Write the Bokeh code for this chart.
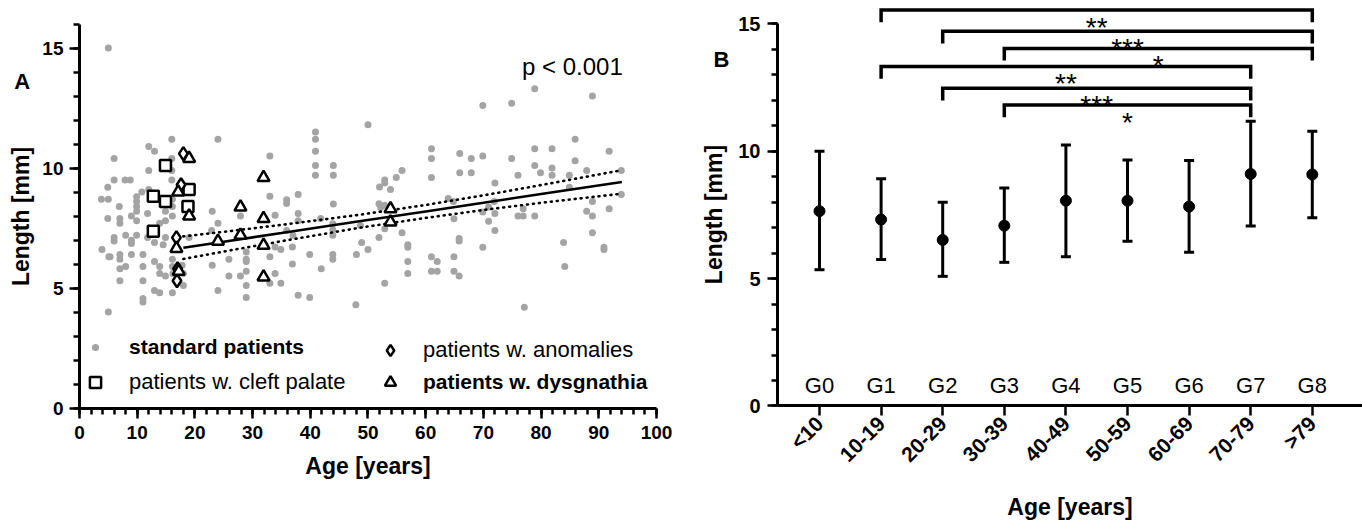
import math
from bokeh.plotting import figure
from bokeh.models import (ColumnDataSource, SingleIntervalTicker, FixedTicker, Whisker,
                          TeeHead, Label, Legend, LegendItem, Range1d)
from bokeh.layouts import row
from bokeh.embed import file_html
from bokeh.resources import INLINE
from bokeh.core.properties import value

FONT = "Liberation Sans"

# ---------------- Panel A data ----------------
std_age = [5.0, 16.0, 24.0, 12.0, 13.0, 6.0, 16.0, 12.0, 16.0, 6.0, 7.9, 8.8, 16.0,
           4.9, 3.8, 5.0, 6.9, 9.9, 9.9, 9.9, 9.9, 10.8, 4.9, 7.0, 7.0, 9.0, 9.9, 11.8,
           13.9, 14.9, 14.9, 16.1, 16.1, 16.1, 6.0, 6.0, 8.0, 9.0, 9.0, 9.9, 11.8, 3.9,
           5.1, 7.0, 7.0, 9.0, 11.0, 13.0, 7.0, 8.0, 11.0, 7.0, 11.0, 13.0, 13.9, 13.9,
           14.9, 16.1, 16.1, 17.8, 18.0, 18.0, 13.0, 13.9, 16.1, 11.0, 11.0, 5.0, 23.0,
           24.0, 23.0, 24.0, 19.0, 12.0, 14.9, 14.5, 22.9, 16.2, 5.3,
           33.0, 40.9, 40.9, 40.9, 40.9, 40.9, 44.0, 44.0,
           33.0, 35.9, 35.9, 37.9, 44.0, 27.9, 33.9, 37.9, 37.9, 41.8, 43.9, 43.9, 43.9,
           48.7, 28.9, 28.9, 28.9, 25.9, 33.0, 33.9, 34.9, 36.9, 39.9, 43.9, 43.9, 48.0,
           48.9, 36.9, 41.9, 25.9, 27.9, 28.9, 33.9, 33.0, 34.9, 28.9, 28.9, 37.9, 39.9,
           47.9, 35.9, 37.0,
           50.0, 69.9, 61.0, 61.0, 65.9, 67.9, 69.9, 55.9, 54.9, 52.9, 61.0, 65.9, 67.9,
           52.0, 52.9, 53.9, 51.9, 52.9, 52.2, 52.9, 55.9, 51.9, 50.0, 56.9, 56.9, 56.9,
           56.9, 52.9, 61.0, 62.0, 61.0, 62.0, 63.9, 64.8, 64.9, 65.8, 65.8, 64.9, 64.9,
           65.8, 69.9, 70.9, 70.9, 69.9, 72.0, 72.0, 72.0, 71.9,
           74.9, 74.9, 76.0, 76.0, 76.9, 76.9, 78.9, 78.9, 78.9, 79.9, 78.9, 81.9, 81.9,
           81.9, 83.9, 84.9, 84.9, 85.9, 85.9, 87.9, 87.9, 88.9, 88.9, 88.9, 88.9, 90.9,
           90.9, 91.8, 91.8, 93.9, 93.9, 77.1, 84.1]
std_len = [15.0, 11.2, 11.2, 10.9, 10.7, 10.4, 10.4, 9.9, 9.9, 9.5, 9.5, 9.5, 9.5,
           9.2, 8.7, 8.7, 8.4, 8.8, 8.6, 8.4, 8.2, 9.0, 7.9, 7.9, 7.7, 8.0, 7.8, 8.1,
           7.7, 7.8, 8.2, 8.7, 8.4, 8.0, 7.1, 6.96, 7.2, 6.99, 6.85, 7.2, 7.1, 6.6,
           6.3, 6.4, 6.2, 6.4, 6.4, 6.9, 5.8, 5.9, 5.9, 5.3, 5.3, 6.1, 5.9, 5.6,
           5.5, 6.2, 5.9, 5.95, 5.6, 5.1, 4.9, 4.8, 4.8, 4.56, 4.42, 4.0, 8.2,
           7.7, 5.95, 4.9, 7.1, 9.1, 7.1, 6.8, 7.4, 5.6, 6.3,
           10.5, 11.5, 11.2, 10.7, 10.1, 9.7, 10.1, 9.7,
           8.82, 8.68, 8.52, 8.9, 8.5, 8.0, 8.03, 8.1, 7.8, 7.9, 7.68, 7.43, 7.2,
           7.6, 6.5, 6.2, 6.1, 6.2, 6.3, 6.71, 6.6, 6.71, 6.4, 6.4, 6.2, 6.4,
           6.9, 6.0, 5.8, 5.5, 5.5, 5.7, 5.6, 5.2, 5.2, 5.1, 4.6, 4.7, 4.6,
           4.3, 7.4, 7.2,
           11.8, 12.6, 10.8, 10.4, 10.6, 10.4, 10.5, 9.9, 9.6, 9.5, 9.6, 9.8, 9.8,
           9.21, 9.38, 9.1, 8.51, 8.45, 8.35, 7.47, 7.3, 7.1, 6.6, 6.8, 6.7, 6.1,
           5.6, 5.2, 6.3, 6.1, 5.7, 5.7, 8.73, 8.6, 7.89, 7.06, 6.96, 6.3, 5.7,
           5.5, 8.17, 8.38, 7.78, 6.7, 9.38, 8.1, 7.4, 8.6,
           12.7, 10.4, 9.7, 8.0, 8.0, 8.3, 13.3, 10.8, 10.1, 9.8, 8.0, 10.8, 10.0,
           9.7, 6.9, 9.7, 9.2, 11.2, 10.3, 9.9, 8.2, 13.0, 8.6, 8.0, 7.3, 6.7,
           6.6, 10.7, 8.3, 9.9, 8.9, 4.2, 5.9]

cleft_age = [14.9, 12.8, 14.9, 19.0, 18.8, 12.8]
cleft_len = [10.1, 8.82, 8.6, 9.1, 8.4, 7.36]
anom_age = [18.0, 17.6, 16.8, 17.0, 16.9]
anom_len = [10.6, 9.3, 7.1, 5.8, 5.3]
dysg_age = [19.0, 17.1, 19.0, 16.8, 17.2, 24.0, 27.9, 27.9, 31.9, 31.9, 31.9, 31.9, 53.9, 53.9]
dysg_len = [10.4, 9.0, 8.0, 6.65, 5.7, 6.95, 8.37, 7.2, 9.6, 7.89, 6.78, 5.46, 8.3, 7.75]

fit_age = [18, 25, 35, 48.5, 60, 70, 80, 94]
fit_len = [6.68, 6.93, 7.29, 7.78, 8.19, 8.55, 8.92, 9.42]
ci_upper = [7.15, 7.34, 7.63, 8.05, 8.46, 8.86, 9.29, 9.91]
ci_lower = [6.21, 6.52, 6.95, 7.51, 7.92, 8.25, 8.55, 8.93]

# ---------------- Panel B data ----------------
groups = ["G0", "G1", "G2", "G3", "G4", "G5", "G6", "G7", "G8"]
age_groups = ["<10", "10-19", "20-29", "30-39", "40-49", "50-59", "60-69", "70-79", ">79"]
mean_len = [7.65, 7.32, 6.52, 7.08, 8.06, 8.06, 7.83, 9.11, 9.09]
upper_len = [10.0, 8.92, 8.0, 8.56, 10.25, 9.66, 9.64, 11.18, 10.79]
lower_len = [5.35, 5.75, 5.09, 5.64, 5.86, 6.47, 6.04, 7.07, 7.39]

brk_from = [1, 2, 3, 1, 2, 3]
brk_to = [8, 8, 8, 7, 7, 7]
brk_y = [15.55, 14.71, 14.04, 13.33, 12.47, 11.82]
brk_label = ["**", "***", "*", "**", "***", "*"]

GRAY = "#a4a4a4"


def style_axes(p, tick_size="19px", title_size="23px"):
    p.title.visible = False
    for ax in (p.xaxis, p.yaxis):
        ax.axis_line_width = 3
        ax.axis_line_color = "black"
        ax.major_tick_line_width = 2.5
        ax.minor_tick_line_width = 2.5
        ax.major_tick_out = 10
        ax.major_tick_in = 0
        ax.minor_tick_out = 6
        ax.minor_tick_in = 0
        ax.major_label_text_font = FONT
        ax.major_label_text_font_style = "bold"
        ax.major_label_text_font_size = tick_size
        ax.major_label_text_color = "black"
        ax.axis_label_text_font = FONT
        ax.axis_label_text_font_style = "bold"
        ax.axis_label_text_font_size = title_size
        ax.axis_label_text_color = "black"
    p.grid.visible = False
    p.outline_line_color = None
    p.background_fill_color = "white"
    p.border_fill_color = "white"


# ---------------- Panel A ----------------
# frame covers the whole canvas; axes are pinned at x=0 / y=0
p1 = figure(width=700, height=521, x_range=Range1d(-13.69, 107.63), y_range=Range1d(-4.729, 16.98),
            output_backend="svg", toolbar_location=None,
            min_border_left=0, min_border_right=0, min_border_top=0, min_border_bottom=0)
style_axes(p1)
p1.xaxis.ticker = SingleIntervalTicker(interval=10, num_minor_ticks=5)
p1.yaxis.ticker = SingleIntervalTicker(interval=5, num_minor_ticks=5)
p1.xaxis.bounds = (0, 100)
p1.yaxis.bounds = (0, 16)
p1.xaxis.fixed_location = 0
p1.yaxis.fixed_location = 0
p1.xaxis.axis_label = "Age [years]"
p1.yaxis.axis_label = "Length [mm]"
p1.yaxis.major_label_standoff = 6
p1.xaxis.major_label_standoff = 8
p1.yaxis.axis_label_standoff = 5
p1.xaxis.axis_label_standoff = 10

r_std = p1.scatter(std_age, std_len, size=7, marker="circle", fill_color=GRAY, line_color=None)
p1.line(fit_age, ci_upper, line_color="black", line_width=2.6, line_dash="1 5", line_cap="round")
p1.line(fit_age, ci_lower, line_color="black", line_width=2.6, line_dash="1 5", line_cap="round")
p1.line(fit_age, fit_len, line_color="black", line_width=2.6)
r_cleft = p1.scatter(cleft_age, cleft_len, marker="square", size=11, fill_color="white",
                     line_color="black", line_width=2.5)
r_anom = p1.scatter(anom_age, anom_len, marker="diamond", size=13, fill_color="white",
                    line_color="black", line_width=2.5)
r_dysg = p1.scatter(dysg_age, dysg_len, marker="triangle", size=12, fill_color="white",
                    line_color="black", line_width=2.5)


def add_legend(p, label, rend, loc, bold, glyph, standoff):
    lg = Legend(items=[LegendItem(label=label, renderers=[rend])], location=loc,
                orientation="vertical", background_fill_alpha=0, border_line_color=None,
                padding=0, margin=0, spacing=0, glyph_width=glyph, glyph_height=glyph,
                label_height=glyph, label_standoff=standoff,
                label_text_font=FONT, label_text_font_size="21px" if bold else "22px",
                label_text_font_style="bold" if bold else "normal",
                label_text_color="black", label_text_baseline="middle")
    p.add_layout(lg)


add_legend(p1, "standard patients", r_std, (86, 162), True, 18, 25)
add_legend(p1, "patients w. cleft palate", r_cleft, (81, 125), False, 28, 20)
add_legend(p1, "patients w. anomalies", r_anom, (376, 157), False, 28, 19)
add_legend(p1, "patients w. dysgnathia", r_dysg, (376, 125), True, 28, 19)

p1.add_layout(Label(x=76.7, y=14.23, text="p < 0.001", text_font=FONT, text_font_size="24px",
                    text_color="black", text_baseline="alphabetic"))
p1.add_layout(Label(x=-11.3, y=13.62, text="A", text_font=FONT, text_font_size="22px",
                    text_font_style="bold", text_color="black", text_baseline="alphabetic"))

# ---------------- Panel B ----------------
idx = list(range(len(groups)))
p2 = figure(width=662, height=521, x_range=Range1d(-1.932, 8.815), y_range=Range1d(-4.535, 15.92),
            output_backend="svg", toolbar_location=None,
            min_border_left=0, min_border_right=0, min_border_top=0, min_border_bottom=0)
style_axes(p2, tick_size="20px")
p2.yaxis.ticker = SingleIntervalTicker(interval=5, num_minor_ticks=5)
p2.yaxis.bounds = (0, 15)
p2.xaxis.bounds = (-0.682, 8.815)
p2.yaxis.fixed_location = -0.682
p2.xaxis.fixed_location = 0
p2.xaxis.ticker = FixedTicker(ticks=idx, minor_ticks=[])
p2.xaxis.major_label_overrides = {i: g for i, g in zip(idx, age_groups)}
p2.xaxis.major_label_orientation = math.pi / 4
p2.xaxis.major_label_text_font_size = "21px"
p2.xaxis.major_label_standoff = 4
p2.yaxis.major_label_standoff = 7
p2.xaxis.axis_label = "Age [years]"
p2.yaxis.axis_label = "Length [mm]"
p2.yaxis.axis_label_standoff = 8
p2.xaxis.axis_label_standoff = 17

src = ColumnDataSource(dict(x=idx, mean=mean_len, upper=upper_len, lower=lower_len))
p2.add_layout(Whisker(source=src, base="x", upper="upper", lower="lower",
                      line_width=3, line_color="black",
                      upper_head=TeeHead(size=10, line_width=3, line_color="black"),
                      lower_head=TeeHead(size=10, line_width=3, line_color="black")))
p2.scatter("x", "mean", source=src, size=11, marker="circle", color="black")

p2.text(x=idx, y=[0.8] * len(idx), text=groups, text_font=value(FONT), text_font_size="22px",
        text_align="center", text_baseline="middle", text_color="black")

LEG = 0.48
bx = [[f, f, t, t] for f, t in zip(brk_from, brk_to)]
by = [[y - LEG, y, y, y - LEG] for y in brk_y]
p2.multi_line(bx, by, line_color="black", line_width=3.5, line_join="miter")
p2.text(x=[(f + t) / 2 for f, t in zip(brk_from, brk_to)], y=brk_y, text=brk_label,
        text_font=value(FONT), text_font_size="28px", text_align="center",
        text_baseline="top", y_offset=2, text_color="black")

p2.add_layout(Label(x=-1.72, y=13.62, text="B", text_font=FONT, text_font_size="22px",
                    text_font_style="bold", text_color="black", text_baseline="alphabetic"))

layout = row(p1, p2)
open("out.html", "w").write(file_html(layout, INLINE))
